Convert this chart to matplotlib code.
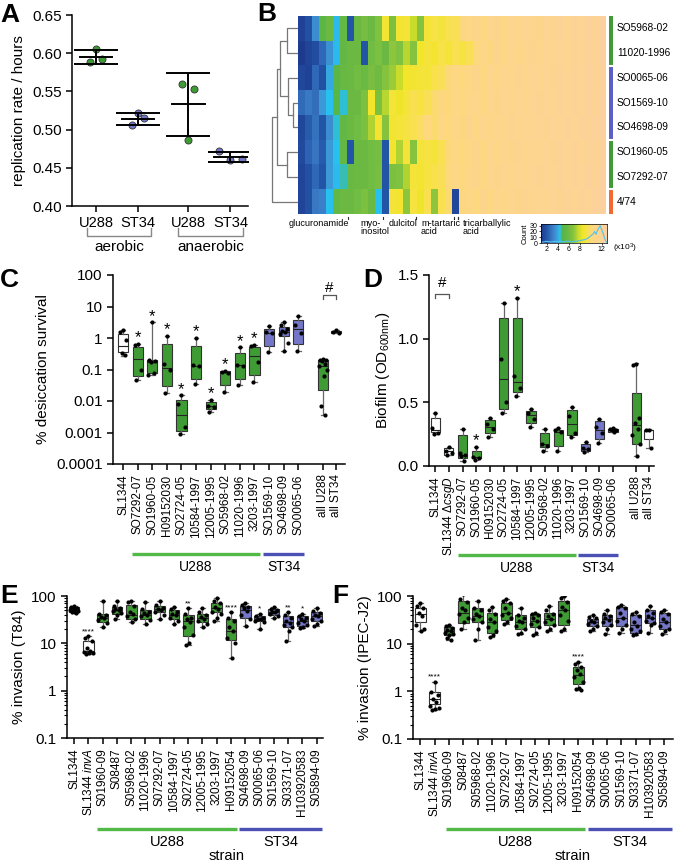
import numpy as np
import matplotlib
matplotlib.use('Agg')
import matplotlib.pyplot as plt
from matplotlib.colors import LinearSegmentedColormap, ListedColormap
from matplotlib.transforms import blended_transform_factory
from matplotlib.ticker import FixedLocator, LogLocator, NullFormatter, NullLocator

plt.rcParams['font.family'] = ['Liberation Sans', 'DejaVu Sans']
plt.rcParams['mathtext.fontset'] = 'custom'
plt.rcParams['mathtext.rm'] = 'Liberation Sans'
plt.rcParams['mathtext.it'] = 'Liberation Sans:italic'
plt.rcParams['axes.linewidth'] = 1.1
plt.rcParams['xtick.major.width'] = 1.1
plt.rcParams['ytick.major.width'] = 1.1

GREEN = '#3f9c35'
PURPLE = '#7477c8'
GREEN_LINE = '#52b848'
BLUE_LINE = '#4a50b4'
ORANGE = '#f26a2e'

# ---------------- panel A data ----------------
a_conditions = ['aerobic', 'anaerobic']
a_strains = ['U288', 'ST34', 'U288', 'ST34']
a_rates = [[0.606, 0.588, 0.592],
           [0.522, 0.506, 0.515],
           [0.560, 0.553, 0.486],
           [0.472, 0.460, 0.462]]

# ---------------- panel B data ----------------
hm_rows = ['SO5968-02', '11020-1996', 'SO0065-06', 'SO1569-10',
           'SO4698-09', 'SO1960-05', 'SO7292-07', '4/74']
hm_groups = [0, 0, 1, 1, 1, 0, 0, 2]   # U288, ST34, 4/74
hm_values = [
    [1.3, 1.8, 3.5, 5.2, 6.0, 4.3, 5.6, 2.0, 6.0, 6.3, 6.0, 6.6, 8.8, 6.5, 8.8, 9.0, 7.8, 6.8, 9.0, 9.3, 9.1, 9.5,
     9.6, 10.5, 10.8, 11.0, 10.6, 11.2, 11.0, 10.7, 11.4, 11.1, 11.6, 11.3, 11.0, 11.8, 11.5, 12.0, 11.6, 12.2, 11.8, 12.4, 12.0, 12.6],
    [1.0, 1.4, 1.7, 2.5, 3.6, 4.3, 5.5, 6.0, 6.0, 2.0, 6.2, 6.5, 6.0, 7.0, 6.6, 7.6, 6.8, 8.6, 9.0, 8.8, 9.3, 9.0,
     9.5, 9.2, 9.6, 10.4, 10.8, 10.5, 11.0, 10.7, 11.2, 10.9, 11.3, 11.5, 11.1, 11.7, 11.4, 11.9, 11.6, 12.0, 11.7, 12.3, 12.0, 12.5],
    [1.5, 1.3, 2.5, 1.8, 4.0, 5.2, 5.8, 6.0, 6.2, 5.9, 6.4, 6.1, 6.8, 7.2, 7.8, 8.6, 8.8, 9.0, 9.0, 9.4, 9.6, 10.2,
     10.6, 10.3, 10.8, 11.0, 10.6, 11.2, 10.9, 11.4, 11.1, 11.5, 11.3, 11.7, 11.4, 11.8, 11.5, 12.0, 11.7, 12.1, 11.9, 12.3, 12.0, 12.4],
    [2.6, 3.0, 2.7, 3.8, 4.4, 5.0, 4.5, 6.0, 6.0, 6.5, 8.6, 6.5, 7.6, 9.0, 8.5, 9.0, 9.5, 9.2, 9.6, 10.0, 10.5, 10.2,
     10.7, 10.4, 10.9, 11.1, 10.7, 11.3, 11.0, 11.4, 11.2, 11.6, 11.3, 11.7, 11.5, 11.9, 11.6, 12.0, 11.8, 12.2, 11.9, 12.4, 12.1, 12.5],
    [1.5, 2.2, 2.8, 2.0, 3.5, 4.5, 5.5, 6.0, 6.2, 6.5, 7.5, 8.8, 6.8, 8.8, 9.0, 9.2, 9.5, 9.8, 10.3, 10.0, 10.6, 10.3,
     10.8, 10.5, 11.0, 10.7, 11.2, 10.9, 11.3, 11.1, 11.5, 11.2, 11.6, 11.4, 11.8, 11.5, 11.9, 11.7, 12.1, 11.8, 12.2, 12.0, 12.3, 12.5],
    [1.6, 2.4, 2.9, 2.2, 3.8, 4.4, 5.5, 2.0, 6.0, 6.0, 6.2, 6.3, 2.0, 8.8, 7.5, 9.0, 6.8, 9.0, 9.2, 9.0, 9.5, 10.2,
     10.6, 10.3, 10.8, 11.0, 10.6, 11.2, 10.9, 11.3, 11.0, 11.5, 11.2, 11.6, 11.4, 11.8, 11.5, 12.0, 11.7, 12.1, 11.8, 12.2, 12.0, 12.4],
    [1.4, 1.8, 2.5, 2.0, 3.8, 4.3, 4.6, 5.8, 6.0, 6.0, 6.2, 6.4, 2.0, 6.5, 6.6, 7.5, 9.0, 8.8, 9.2, 9.4, 9.6, 10.3,
     10.7, 10.4, 10.9, 11.0, 10.7, 11.3, 11.0, 11.4, 11.1, 11.6, 11.3, 11.7, 11.5, 11.9, 11.6, 12.0, 11.8, 12.2, 11.9, 12.3, 12.1, 12.5],
    [1.4, 1.8, 3.0, 3.2, 4.4, 5.5, 6.0, 6.0, 6.2, 6.5, 6.0, 4.4, 2.0, 9.0, 8.8, 7.0, 9.2, 8.5, 9.5, 7.0, 9.5, 10.0,
     1.5, 10.5, 10.8, 10.4, 11.0, 10.6, 11.2, 10.9, 11.3, 11.0, 11.5, 11.2, 11.6, 11.4, 11.8, 11.5, 12.0, 11.7, 12.1, 11.9, 12.3, 12.5],
]
# merges: (child a, child b, height); leaves 0-7, new nodes numbered from 8
hm_tree = [(0, 1, 11), (3, 4, 5), (2, 9, 10), (8, 10, 18), (5, 6, 11), (11, 12, 21), (13, 7, 26)]
hm_marks = [('glucuronamide', 6.6), ('myo-\ninositol', 11.6), ('dulcitol', 16.4),
            ('m-tartaric\nacid', 21.8), ('tricarballylic\nacid', 22.4)]
count_x = [1.0, 1.5, 2.0, 2.5, 3.0, 3.5, 4.0, 4.5, 5.0, 5.5, 6.0, 6.5, 7.0, 7.5, 8.0, 8.5, 9.0, 9.5,
           10.0, 10.5, 10.75, 11.0, 11.25, 11.5, 11.75, 12.0, 12.25, 12.5, 12.75, 13.0]
count_y = [1, 2, 3, 2, 2, 3, 2, 3, 2, 3, 3, 2, 3, 3, 4, 5, 6, 8, 12, 16, 20, 15, 21, 26, 30, 24, 18, 10, 4, 1]

# ---------------- panel C data ----------------
c_names = ['SL1344', 'SO7292-07', 'SO1960-05', 'H09152030', 'SO2724-05', '10584-1997', '12005-1995',
           'SO5968-02', '11020-1996', '3203-1997', 'SO1569-10', 'SO4698-09', 'SO0065-06', 'all U288', 'all ST34']
c_group = ['ctrl'] + ['U288'] * 9 + ['ST34'] * 3 + ['U288', 'ctrl']
c_points = [[1.8, 1.5, 0.85, 0.33, 0.28], [0.65, 0.6, 0.1, 0.045], [3.2, 0.2, 0.18, 0.17, 0.08, 0.065],
            [1.2, 0.15, 0.1, 0.018], [0.015, 0.008, 0.0015, 0.0009], [1.0, 0.14, 0.13, 0.035],
            [0.011, 0.007, 0.0065, 0.0045], [0.09, 0.085, 0.08, 0.02], [0.5, 0.14, 0.13, 0.033],
            [0.6, 0.55, 0.17, 0.04], [2.4, 1.5, 1.4, 0.35], [3.3, 2.5, 2.0, 1.7, 1.5, 1.3, 0.7, 0.4],
            [5.0, 2.5, 1.4, 0.4], [0.21, 0.2, 0.2, 0.19, 0.15, 0.13, 0.1, 0.06, 0.007, 0.0035], [1.8, 1.5, 1.4]]
# q1, median, q3, min, max
c_stats = [(0.35, 0.55, 1.35, 0.27, 1.8), (0.06, 0.22, 0.52, 0.045, 0.65), (0.08, 0.17, 0.2, 0.065, 3.2),
           (0.03, 0.11, 0.65, 0.018, 1.2), (0.0011, 0.0035, 0.011, 0.0009, 0.015), (0.05, 0.13, 0.55, 0.035, 1.0),
           (0.0055, 0.0068, 0.009, 0.0045, 0.011), (0.032, 0.085, 0.09, 0.02, 0.09), (0.05, 0.14, 0.33, 0.033, 0.5),
           (0.065, 0.27, 0.52, 0.04, 0.6), (0.55, 1.45, 1.9, 0.35, 2.4), (1.15, 1.6, 2.3, 0.4, 3.3),
           (0.65, 2.0, 3.8, 0.4, 5.0), (0.022, 0.13, 0.2, 0.0035, 0.21), (1.4, 1.5, 1.7, 1.4, 1.8)]
c_stars = [1, 2, 3, 4, 5, 6, 7, 8, 9]

# ---------------- panel D data ----------------
d_names = ['SL1344', 'SL1344 $\\Delta\\it{csgD}$', 'SO7292-07', 'SO1960-05', 'H09152030', 'SO2724-05', '10584-1997',
           '12005-1995', 'SO5968-02', '11020-1996', '3203-1997', 'SO1569-10', 'SO4698-09', 'SO0065-06',
           'all U288', 'all ST34']
d_group = ['ctrl', 'ctrl'] + ['U288'] * 9 + ['ST34'] * 3 + ['U288', 'ctrl']
d_points = [[0.42, 0.30, 0.26, 0.25], [0.15, 0.12, 0.10, 0.09], [0.29, 0.10, 0.09, 0.08, 0.04],
            [0.15, 0.07, 0.06, 0.05], [0.38, 0.33, 0.29, 0.23], [1.28, 0.84, 0.50, 0.42],
            [1.32, 0.71, 0.61, 0.55], [0.45, 0.42, 0.37, 0.31], [0.29, 0.17, 0.16, 0.12],
            [0.30, 0.28, 0.27, 0.12], [0.46, 0.39, 0.26, 0.23], [0.19, 0.14, 0.13, 0.11],
            [0.37, 0.31, 0.26, 0.18], [0.30, 0.29, 0.28, 0.28, 0.27],
            [0.80, 0.79, 0.38, 0.34, 0.29, 0.24, 0.17, 0.08], [0.28, 0.28, 0.14]]
d_stats = [(0.27, 0.28, 0.38, 0.25, 0.42), (0.09, 0.12, 0.14, 0.09, 0.15), (0.06, 0.09, 0.24, 0.04, 0.29),
           (0.06, 0.07, 0.12, 0.05, 0.15), (0.26, 0.31, 0.36, 0.23, 0.38), (0.45, 0.68, 1.16, 0.42, 1.28),
           (0.58, 0.66, 1.16, 0.55, 1.32), (0.34, 0.40, 0.43, 0.31, 0.45), (0.15, 0.17, 0.26, 0.12, 0.29),
           (0.16, 0.27, 0.28, 0.12, 0.30), (0.24, 0.33, 0.44, 0.23, 0.46), (0.12, 0.13, 0.17, 0.11, 0.19),
           (0.21, 0.28, 0.35, 0.18, 0.37), (0.27, 0.28, 0.29, 0.27, 0.30), (0.17, 0.32, 0.57, 0.08, 0.81),
           (0.21, 0.28, 0.28, 0.14, 0.29)]
d_stars = [3, 6]

# ---------------- panels E/F data ----------------
inv_names = ['SL1344', 'SL1344 $\\it{invA}$', 'S01960-09', 'S08487', 'S05968-02', '11020-1996', 'S07292-07',
             '10584-1997', 'S02724-05', '12005-1995', '3203-1997', 'H09152054', 'S04698-09', 'S00065-06',
             'S01569-10', 'S03371-07', 'H103920583', 'S05894-09']
inv_group = ['ctrl', 'ctrl'] + ['U288'] * 10 + ['ST34'] * 6
e_points = [[62, 58, 56, 54, 52, 50, 48, 46, 45, 44], [14, 13, 11, 8, 7, 6.6, 6.3, 6.1, 6],
            [80, 42, 40, 36, 34, 31, 27, 22], [78, 62, 56, 52, 50, 48, 44, 40, 33],
            [80, 76, 62, 46, 41, 38, 33, 28], [75, 52, 47, 43, 40, 37, 31, 25],
            [78, 63, 57, 53, 50, 46, 40, 33], [60, 52, 47, 42, 39, 35, 30, 26],
            [55, 42, 35, 32, 28, 22, 15, 10, 9], [55, 45, 40, 36, 33, 30, 26, 22],
            [90, 80, 70, 60, 52, 47, 42, 35, 30], [45, 35, 30, 22, 18, 13, 10, 5],
            [70, 65, 60, 55, 48, 40, 33, 23], [42, 38, 35, 33, 32, 30, 28, 20],
            [60, 54, 50, 47, 45, 42, 38, 35], [45, 40, 35, 30, 27, 24, 22, 18, 11],
            [42, 38, 35, 33, 30, 27, 24, 22, 21], [55, 48, 43, 40, 37, 33, 30, 25, 23]]
e_stats = [(45, 52, 58, 44, 62), (6.5, 7, 11, 6, 14), (28, 35, 42, 22, 80), (42, 50, 58, 33, 78),
           (33, 40, 65, 28, 80), (33, 40, 50, 25, 75), (45, 52, 62, 33, 78), (32, 40, 50, 26, 60),
           (14, 30, 40, 9, 55), (28, 35, 42, 22, 55), (45, 55, 70, 30, 90), (12, 18, 33, 5, 45),
           (35, 50, 62, 23, 70), (29, 33, 38, 20, 42), (40, 45, 52, 35, 60), (22, 28, 38, 11, 45),
           (23, 30, 38, 21, 42), (30, 38, 45, 23, 55)]
e_stars = {1: '****', 8: '**', 11: '****', 13: '*', 15: '**', 16: '*'}
f_points = [[70, 62, 55, 45, 38, 25, 20, 18], [1.6, 0.95, 0.85, 0.7, 0.6, 0.5, 0.45, 0.42, 0.4],
            [25, 23, 21, 19, 18, 17, 16, 15, 13, 12], [110, 85, 75, 55, 50, 42, 35, 28, 20],
            [80, 55, 50, 42, 38, 33, 28, 20, 12], [58, 50, 42, 33, 28, 22, 18, 15, 14],
            [88, 80, 70, 55, 45, 40, 35, 28, 26], [55, 40, 35, 30, 28, 24, 20, 17, 16],
            [45, 42, 40, 35, 30, 26, 22, 17, 15], [62, 50, 42, 38, 33, 28, 25, 20, 18],
            [98, 90, 75, 60, 50, 40, 30, 20, 18], [4.2, 3.8, 3.2, 2.8, 2.3, 2.0, 1.6, 1.2, 1.1, 1.05],
            [40, 37, 34, 30, 28, 26, 24, 20, 18], [50, 42, 38, 35, 32, 28, 25, 20, 16],
            [65, 60, 55, 45, 35, 30, 25, 20, 17], [47, 42, 38, 28, 24, 20, 18, 16, 15],
            [62, 50, 45, 38, 34, 30, 27, 25, 17], [52, 46, 42, 33, 28, 24, 20, 18, 16]]
f_stats = [(28, 42, 57, 18, 70), (0.55, 0.7, 0.95, 0.4, 1.6), (15, 18, 22, 12, 25), (27, 45, 80, 20, 110),
           (28, 38, 55, 12, 80), (17, 28, 45, 14, 58), (32, 45, 70, 26, 88), (20, 28, 40, 16, 55),
           (22, 30, 42, 15, 45), (25, 33, 45, 18, 62), (25, 52, 80, 18, 98), (1.4, 2.2, 3.3, 1.05, 4.2),
           (24, 29, 33, 18, 40), (24, 33, 40, 16, 50), (24, 35, 58, 17, 65), (17, 25, 40, 15, 47),
           (27, 35, 50, 17, 62), (20, 28, 45, 16, 52)]
f_stars = {1: '****', 11: '****'}

group_fill = {'ctrl': 'white', 'U288': GREEN, 'ST34': PURPLE}

W, H = 674, 865
fig = plt.figure(figsize=(W / 100, H / 100), dpi=100)


def add_ax(l, t, r, b):
    return fig.add_axes([l / W, 1 - b / H, (r - l) / W, (b - t) / H])


def fy(ypx):
    return 1 - ypx / H


def style(ax):
    for s in ('top', 'right'):
        ax.spines[s].set_visible(False)
    ax.tick_params(direction='out', length=4, labelsize=11)


def offsets(n, width):
    pattern = [0, -0.3, 0.3, -0.15, 0.15, -0.4, 0.4, 0.05, -0.22, 0.22]
    return np.array([pattern[i % len(pattern)] for i in range(n)]) * width


def boxes(ax, xs, stats, points, groups, width):
    for x, (q1, med, q3, lo, hi), pts, g in zip(xs, stats, points, groups):
        ax.bxp([dict(q1=q1, med=med, q3=q3, whislo=lo, whishi=hi, fliers=[])],
               positions=[x], widths=width, capwidths=width * 0.45, patch_artist=True,
               manage_ticks=False, showfliers=False,
               boxprops=dict(facecolor=group_fill[g], edgecolor='#333333', linewidth=0.8),
               whiskerprops=dict(color='#666666', linewidth=0.9),
               capprops=dict(color='#666666', linewidth=0.9),
               medianprops=dict(color='#222222', linewidth=0.8))
        ax.scatter(x + offsets(len(pts), width), pts, s=9, color='black', linewidths=0, zorder=4)


def group_bars(ax, spans, ybar, ytxt, size=10):
    tr = blended_transform_factory(ax.transData, fig.transFigure)
    for (x0, x1), col, lab in zip(spans, [GREEN_LINE, BLUE_LINE], ['U288', 'ST34']):
        ax.plot([x0, x1], [fy(ybar), fy(ybar)], color=col, lw=2.4, transform=tr, clip_on=False,
                solid_capstyle='butt')
        ax.text((x0 + x1) / 2, fy(ytxt), lab, transform=tr, ha='center', va='center', fontsize=size)


def letter(x, y, s):
    fig.text(x / W, fy(y), s, fontsize=19, fontweight='bold', va='top', ha='left')


# ================= A =================
ax = add_ax(72, 15, 248, 206)
style(ax)
a_pos = [0, 1, 2.2, 3.2]
a_jitter = [[0, -0.15, 0.15], [0, -0.15, 0.15], [-0.15, 0.13, 0.0], [-0.27, 0.0, 0.28]]
for i, vals in enumerate(a_rates):
    col = GREEN if a_strains[i] == 'U288' else PURPLE
    x = a_pos[i]
    ax.scatter(x + np.array(a_jitter[i]), vals, s=26, color=col, edgecolor='#333333', linewidth=0.6, zorder=2)
    m, sd = np.mean(vals), np.std(vals, ddof=1)
    ax.plot([x - 0.39, x + 0.39], [m, m], color='black', lw=1.4, zorder=3)
    ax.errorbar(x, m, yerr=sd, color='black', lw=1.4, capsize=16, capthick=1.4, zorder=3)
ax.set_xlim(-0.57, 3.62)
ax.set_ylim(0.40, 0.65)
ax.set_yticks(np.arange(0.40, 0.651, 0.05))
ax.set_yticklabels(['%.2f' % v for v in np.arange(0.40, 0.651, 0.05)])
ax.set_xticks(a_pos)
ax.set_xticklabels(a_strains, fontsize=10.5)
ax.set_ylabel('replication rate / hours', fontsize=11)
tr = blended_transform_factory(ax.transData, fig.transFigure)
for cond, (x0, x1) in zip(a_conditions, [(-0.21, 1.31), (1.95, 3.5)]):
    ax.plot([x0, x0, x1, x1], [fy(228), fy(236), fy(236), fy(228)], transform=tr,
            color='#888888', lw=1, clip_on=False)
    ax.text((x0 + x1) / 2, fy(247), cond, transform=tr, ha='center', va='center', fontsize=11)
letter(0, 3, 'A')

# ================= B =================
stops = [(1.0, '#1e3a8f'), (2.0, '#2456a8'), (3.0, '#3a7ac4'), (3.8, '#3d9ad8'), (4.4, '#28c2f0'),
         (4.9, '#57b548'), (6.0, '#6cba43'), (7.0, '#8cc63e'), (7.8, '#c9dc2c'), (8.6, '#f2e62a'),
         (9.4, '#f8e24a'), (10.2, '#fdd97a'), (11.0, '#fdd68a'), (12.0, '#fdd494'), (13.0, '#fcd0a6')]
cmap = LinearSegmentedColormap.from_list('pm', [((v - 1) / 12, c) for v, c in stops])

axh = add_ax(298, 16, 606, 214)
axh.imshow(np.array(hm_values), aspect='auto', cmap=cmap, vmin=1, vmax=13, interpolation='nearest')
axh.axis('off')
trh = blended_transform_factory(axh.transAxes, axh.transData)
for i, name in enumerate(hm_rows):
    axh.text(1 + 11 / 308, i, name, transform=trh, fontsize=7.3, va='center', ha='left')
trm = blended_transform_factory(axh.transData, fig.transFigure)
for lab, c in hm_marks:
    axh.plot([c, c], [fy(216.5), fy(219)], color='#333333', lw=0.8, transform=trm, clip_on=False)
axh.plot([21.8 + 0.55, 21.8 + 0.55], [fy(216.5), fy(219)], color='#333333', lw=0.8, transform=trm, clip_on=False)
label_left = [289, 360, 389, 421, 463]
for (lab, c), lx in zip(hm_marks, label_left):
    fig.text(lx / W, fy(219), lab, fontsize=6.6, va='top', ha='left', linespacing=0.9)

# row group bar
axg = add_ax(609, 16, 613, 214)
axg.imshow(np.array(hm_groups)[:, None], aspect='auto',
           cmap=ListedColormap([GREEN, '#5b5fc7', ORANGE]), vmin=0, vmax=2, interpolation='nearest')
for b in (1.5, 4.5, 6.5):
    axg.axhline(b, color='white', lw=1.5)
axg.axis('off')

# dendrogram
axd = add_ax(268, 16, 298, 214)
node_y = {i: float(i) for i in range(len(hm_rows))}
node_h = {i: 0.0 for i in range(len(hm_rows))}
for k, (a, b, h) in enumerate(hm_tree):
    axd.plot([node_h[a], h, h, node_h[b]], [node_y[a], node_y[a], node_y[b], node_y[b]],
             color='#777777', lw=0.9)
    nid = len(hm_rows) + k
    node_y[nid] = (node_y[a] + node_y[b]) / 2
    node_h[nid] = h
axd.set_xlim(30, 0)
axd.set_ylim(len(hm_rows) - 0.5, -0.5)
axd.axis('off')

# colour key with histogram
axk = add_ax(541, 224, 607, 243)
axk.imshow(np.linspace(1, 13, 200)[None, :], aspect='auto', cmap=cmap, vmin=1, vmax=13,
           extent=[1, 13, 0, 33])
axk.plot(count_x, count_y, color='#4fc3f0', lw=0.8)
axk.set_xlim(1, 13)
axk.set_ylim(0, 33)
axk.set_xticks([2, 4, 6, 8, 12])
axk.set_yticks([0, 10, 20, 30])
axk.tick_params(labelsize=5, length=1.5, width=0.5, pad=1)
for s in axk.spines.values():
    s.set_linewidth(0.5)
axk.set_ylabel('Count', fontsize=5.5, labelpad=1)
fig.text(613 / W, fy(248), '(x10$^3$)', fontsize=6, va='center', ha='left')
letter(257, 2, 'B')

# ================= C =================
ax = add_ax(113, 275, 345, 464)
style(ax)
xs_c = list(range(13)) + [13.7, 14.6]
boxes(ax, xs_c, c_stats, c_points, c_group, 0.7)
ax.set_yscale('log')
ax.set_ylim(1e-4, 100)
ax.yaxis.set_major_locator(FixedLocator([1e-4, 1e-3, 1e-2, 0.1, 1, 10, 100]))
ax.set_yticklabels(['0.0001', '0.001', '0.01', '0.1', '1', '10', '100'])
ax.yaxis.set_minor_locator(NullLocator())
ax.set_xlim(-0.69, 15.2)
ax.set_xticks(xs_c)
ax.set_xticklabels(c_names, rotation=90, fontsize=8.5)
ax.set_ylabel('% desiccation survival', fontsize=11)
for i in c_stars:
    ax.annotate('*', (xs_c[i], c_stats[i][4]), xytext=(0, 1), textcoords='offset points',
                ha='center', va='baseline', fontsize=12)
ax.plot([13.7, 13.7, 14.6, 14.6], [17, 24, 24, 17], color='#555555', lw=0.9)
ax.text(14.15, 40, '#', ha='center', va='center', fontsize=11)
group_bars(ax, [(0.62, 9.38), (9.6, 12.4)], 554, 567)
letter(0, 268, 'C')

# ================= D =================
ax = add_ax(429, 275, 654, 466)
style(ax)
xs_d = list(range(14)) + [14.7, 15.6]
boxes(ax, xs_d, d_stats, d_points, d_group, 0.68)
ax.set_ylim(0, 1.5)
ax.set_yticks([0, 0.5, 1.0, 1.5])
ax.set_yticklabels(['0.0', '0.5', '1.0', '1.5'])
ax.set_xlim(-0.45, 16.0)
ax.set_xticks(xs_d)
ax.set_xticklabels(d_names, rotation=90, fontsize=8.5)
ax.set_ylabel('Biofilm (OD$_{\\mathrm{600nm}}$)', fontsize=11)
for i in d_stars:
    ax.annotate('*', (xs_d[i], d_stats[i][4]), xytext=(0, 1), textcoords='offset points',
                ha='center', va='baseline', fontsize=12)
ax.plot([0, 0, 1, 1], [1.32, 1.35, 1.35, 1.32], color='#555555', lw=0.9)
ax.text(0.5, 1.44, '#', ha='center', va='center', fontsize=11)
group_bars(ax, [(1.65, 10.3), (10.45, 13.35)], 555, 568)
letter(363, 268, 'D')


# ================= E / F =================
def invasion(ax, stats, points, stars, ylabel, xlim_r):
    style(ax)
    xs = list(range(len(inv_names)))
    boxes(ax, xs, stats, points, inv_group, 0.75)
    ax.set_yscale('log')
    ax.set_ylim(0.1, 100)
    ax.yaxis.set_major_locator(FixedLocator([0.1, 1, 10, 100]))
    ax.set_yticklabels(['0.1', '1', '10', '100'])
    ax.yaxis.set_minor_locator(LogLocator(subs=np.arange(2, 10)))
    ax.yaxis.set_minor_formatter(NullFormatter())
    ax.tick_params(which='minor', length=2.5, width=0.8)
    ax.set_xlim(-0.5, xlim_r)
    ax.set_xticks(xs)
    ax.set_xticklabels(inv_names, rotation=90, fontsize=8.5)
    ax.set_ylabel(ylabel, fontsize=11)
    for i, s in stars.items():
        ax.annotate(s, (i, stats[i][4]), xytext=(0, 1), textcoords='offset points',
                    ha='center', va='bottom', fontsize=6)


ax = add_ax(67, 596, 323, 738)
invasion(ax, e_stats, e_points, e_stars, '% invasion (T84)', 17.45)
group_bars(ax, [(1.6, 11.45), (11.55, 17.4)], 829, 842, size=10.5)
fig.text(227 / W, fy(856), 'strain', fontsize=10.5, ha='center', va='center')
letter(0, 584, 'E')

ax = add_ax(413, 596, 673, 739)
invasion(ax, f_stats, f_points, f_stars, '% invasion (IPEC-J2)', 17.6)
group_bars(ax, [(1.8, 11.5), (11.65, 17.55)], 829, 842, size=10.5)
fig.text(573 / W, fy(856), 'strain', fontsize=10.5, ha='center', va='center')
letter(332, 584, 'F')

fig.savefig('out.png', dpi=100)
